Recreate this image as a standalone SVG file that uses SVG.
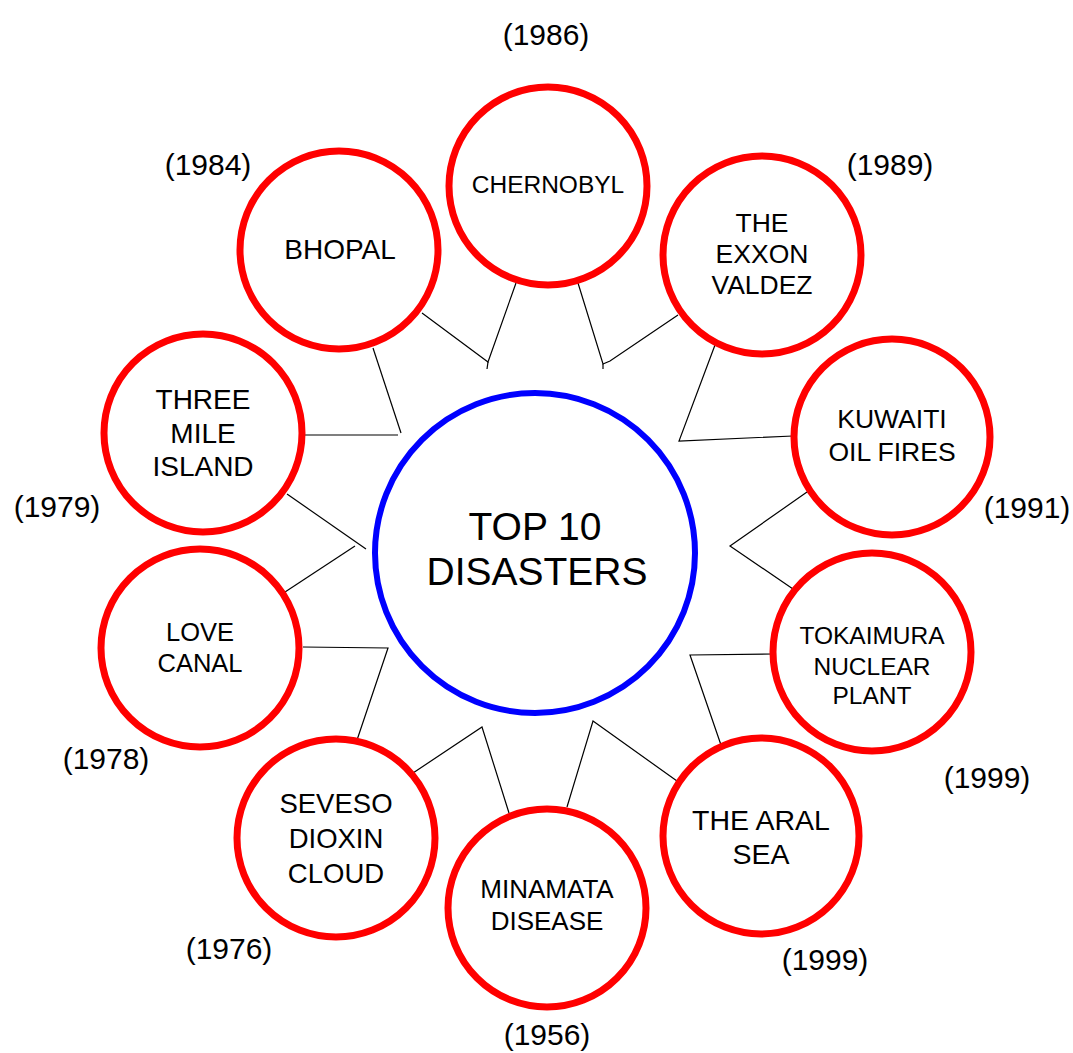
<svg xmlns="http://www.w3.org/2000/svg" width="1073" height="1053" viewBox="0 0 1073 1053">
<style>
.n{fill:#fff;stroke:#ff0000;stroke-width:7}
.c{fill:#fff;stroke:#0000ff;stroke-width:6}
.t{font-family:"Liberation Sans",Arial,sans-serif;fill:#000;text-anchor:middle}
.y{font-family:"Liberation Sans",Arial,sans-serif;fill:#000;text-anchor:middle;font-size:30px}
.l{fill:none;stroke:#000;stroke-width:1.2}
</style>
<rect width="1073" height="1053" fill="#fff"/>
<g id="connectors">
<polyline class="l" points="422,313 488,362 516,283"/>
<line class="l" x1="488" y1="362" x2="487" y2="369"/>
<polyline class="l" points="578,283 603,364 610,361 678,315"/>
<line class="l" x1="603" y1="364" x2="603" y2="369"/>
<polyline class="l" points="373,348 401,433"/>
<polyline class="l" points="303,435 398,435"/>
<polyline class="l" points="715,345 679,441 793,436"/>
<polyline class="l" points="287,494 366,549"/>
<polyline class="l" points="285,592 355,546"/>
<polyline class="l" points="807,492 730,546 793,589"/>
<polyline class="l" points="773,654 690,655 721,745"/>
<polyline class="l" points="303,647 388,648 357,740"/>
<polyline class="l" points="413,773 482,727 509,813"/>
<polyline class="l" points="567,807 593,721 677,781"/>
</g>
<g id="center">
<circle class="c" cx="535" cy="553" r="160"/>
<text class="t" font-size="39" x="535" y="540">TOP 10</text>
<text class="t" font-size="39" x="537" y="585">DISASTERS</text>
</g>
<g id="chernobyl">
<circle class="n" cx="548" cy="186" r="99"/>
<text class="t" font-size="24.5" x="548" y="193">CHERNOBYL</text>
</g>
<g id="bhopal">
<circle class="n" cx="339" cy="250" r="99"/>
<text class="t" font-size="28" x="340" y="259">BHOPAL</text>
</g>
<g id="exxon">
<circle class="n" cx="762" cy="255" r="99"/>
<text class="t" font-size="26.5" x="762" y="232">THE</text>
<text class="t" font-size="26.5" x="762" y="263">EXXON</text>
<text class="t" font-size="26.5" x="762" y="294">VALDEZ</text>
</g>
<g id="threemile">
<circle class="n" cx="203" cy="433" r="99"/>
<text class="t" font-size="28" x="203" y="409">THREE</text>
<text class="t" font-size="28" x="203" y="443">MILE</text>
<text class="t" font-size="28" x="203" y="476">ISLAND</text>
</g>
<g id="kuwaiti">
<circle class="n" cx="892" cy="437" r="98"/>
<text class="t" font-size="26.5" x="892" y="428">KUWAITI</text>
<text class="t" font-size="26.5" x="892" y="461">OIL FIRES</text>
</g>
<g id="lovecanal">
<circle class="n" cx="200" cy="648" r="99"/>
<text class="t" font-size="25.5" x="200" y="641">LOVE</text>
<text class="t" font-size="25.5" x="200" y="672">CANAL</text>
</g>
<g id="tokaimura">
<circle class="n" cx="872" cy="652" r="99"/>
<text class="t" font-size="24.5" x="872" y="644">TOKAIMURA</text>
<text class="t" font-size="24.5" x="872" y="675">NUCLEAR</text>
<text class="t" font-size="24.5" x="872" y="704">PLANT</text>
</g>
<g id="seveso">
<circle class="n" cx="336" cy="838" r="99"/>
<text class="t" font-size="27.5" x="336" y="813">SEVESO</text>
<text class="t" font-size="27.5" x="336" y="848">DIOXIN</text>
<text class="t" font-size="27.5" x="336" y="883">CLOUD</text>
</g>
<g id="minamata">
<circle class="n" cx="547" cy="908" r="99"/>
<text class="t" font-size="26" x="547" y="898">MINAMATA</text>
<text class="t" font-size="26" x="547" y="930">DISEASE</text>
</g>
<g id="aralsea">
<circle class="n" cx="761" cy="836" r="98"/>
<text class="t" font-size="28.5" x="761" y="830">THE ARAL</text>
<text class="t" font-size="28.5" x="761" y="864">SEA</text>
</g>
<g id="years">
<text class="y" x="546" y="45">(1986)</text>
<text class="y" x="208" y="175">(1984)</text>
<text class="y" x="890" y="175">(1989)</text>
<text class="y" x="57" y="517">(1979)</text>
<text class="y" x="1027" y="518">(1991)</text>
<text class="y" x="106" y="769">(1978)</text>
<text class="y" x="987" y="788">(1999)</text>
<text class="y" x="229" y="959">(1976)</text>
<text class="y" x="825" y="970">(1999)</text>
<text class="y" x="547" y="1045">(1956)</text>
</g>
</svg>
